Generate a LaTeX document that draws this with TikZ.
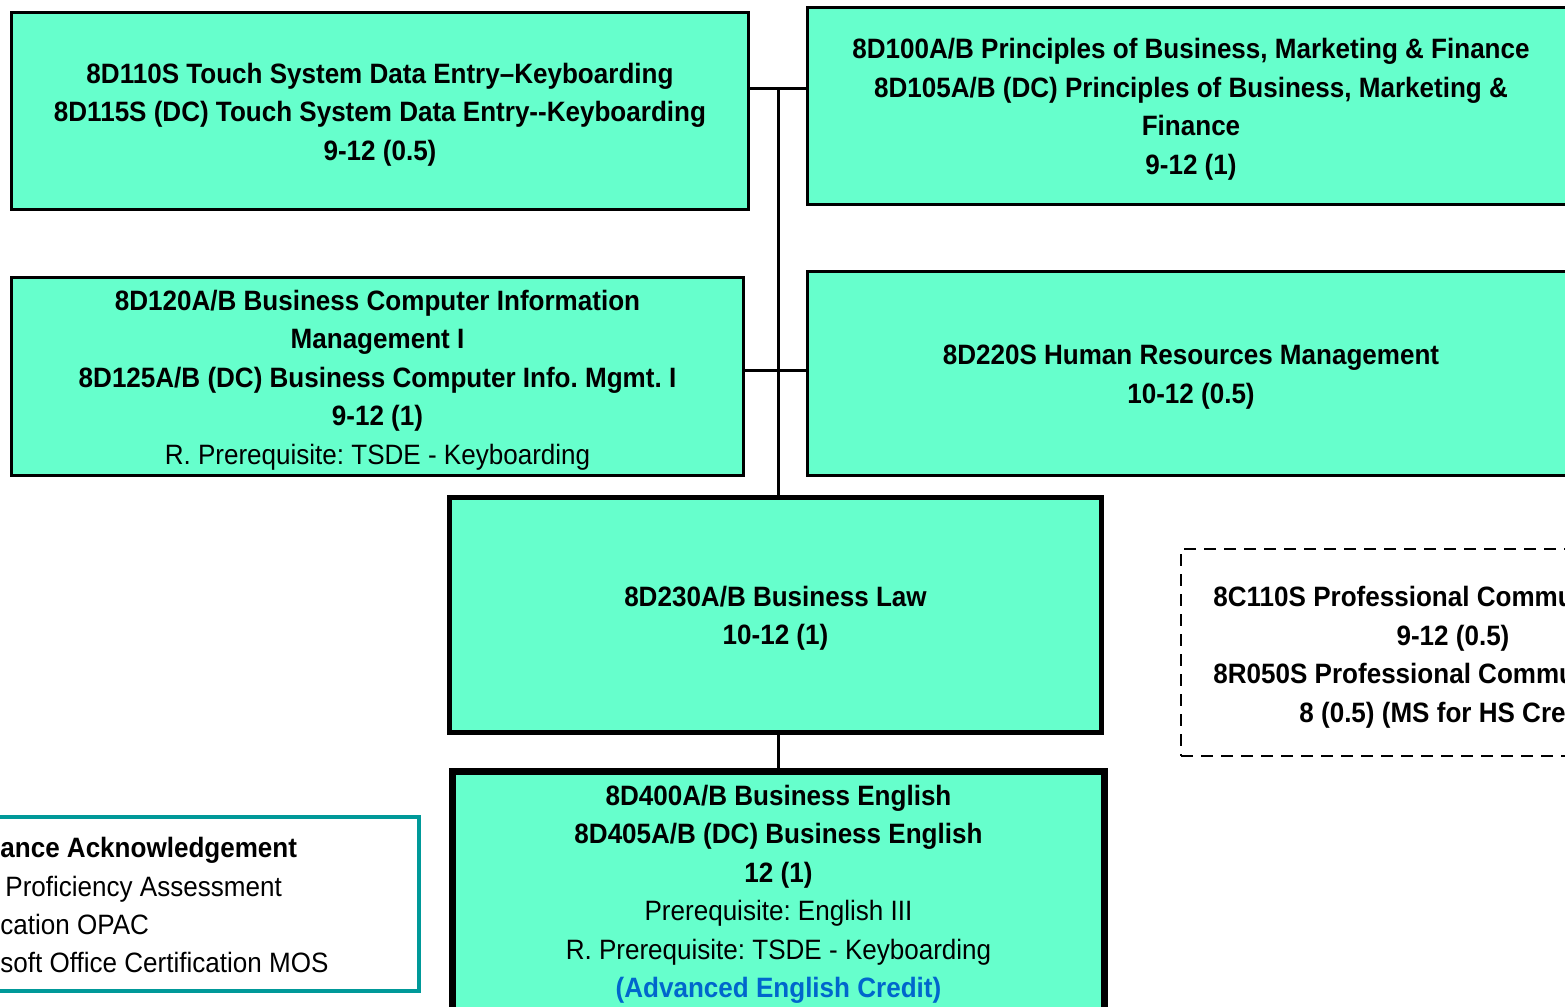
\documentclass[tikz,border=0pt]{standalone}
\usepackage{fontspec}
\setmainfont{Liberation Sans}[FakeStretch=0.93]
\usepackage{tikz}
\frenchspacing

\definecolor{crsfill}{HTML}{66FFCC}
\definecolor{legendteal}{HTML}{009999}
\definecolor{creditblue}{HTML}{0066CC}
\newcommand{\crsfont}{\fontsize{14pt}{19.25pt}\selectfont\bfseries}

\begin{document}
\begin{tikzpicture}[x=0.5pt,y=-0.5pt,
  course/.style={draw=black, line width=1.5pt, fill=crsfill, inner sep=0pt, align=center, font=\crsfont},
  link/.style={draw=black, line width=1.5pt},
  txt/.style={inner sep=0pt, font=\crsfont}]
\useasboundingbox (0,0) rectangle (1565,1007);
\clip (0,0) rectangle (1565,1007);

% course boxes
\node[course, minimum width=368.5pt, minimum height=98.5pt] (tsde) at (380,111)
  {\strut 8D110S Touch System Data Entry--Keyboarding\\8D115S (DC) Touch System Data Entry-{}-Keyboarding\\9-12 (0.5)};
\node[course, minimum width=384pt, minimum height=98.5pt] (pbmf) at (1191,106)
  {\strut 8D100A/B Principles of Business, Marketing \& Finance\\8D105A/B (DC) Principles of Business, Marketing \&\\Finance\\9-12 (1)};
\node[course, minimum width=366pt, minimum height=99pt] (bcim) at (377.5,376.5)
  {\strut 8D120A/B Business Computer Information\\Management I\\8D125A/B (DC) Business Computer Info. Mgmt. I\\9-12 (1)\\{\mdseries R. Prerequisite: TSDE - Keyboarding}};
\node[course, minimum width=384pt, minimum height=102pt] (hrm) at (1191,373.5)
  {\strut 8D220S Human Resources Management\\10-12 (0.5)};
\node[course, line width=2.5pt, minimum width=326pt, minimum height=117.5pt] (law) at (775.5,615)
  {\strut 8D230A/B Business Law\\10-12 (1)};
\node[course, line width=3.5pt, minimum width=326pt, minimum height=119.5pt] (beng) at (778.5,891)
  {\strut 8D400A/B Business English\\8D405A/B (DC) Business English\\12 (1)\\{\mdseries Prerequisite: English III}\\{\mdseries R. Prerequisite: TSDE - Keyboarding}\\\textcolor{creditblue}{(Advanced English Credit)}};

% dashed box
\node[draw=black, line width=1.25pt, dash pattern=on 6pt off 4pt, minimum width=272pt, minimum height=103.5pt, inner sep=0pt] (procom) at (1453,652.5) {};
\node[txt, anchor=base west] (pc1) at (1213,606) {8C110S Professional Commu};
\node[txt, anchor=base] (pc2) at (1453,645) {9-12 (0.5)};
\node[txt, anchor=base west] (pc3) at (1213,683) {8R050S Professional Commu};
\node[txt, anchor=base west] (pc4) at (1299,722) {8 (0.5) (MS for HS Cre};

% legend
\node[draw=legendteal, line width=2pt, fill=white, minimum width=259.5pt, minimum height=87pt, inner sep=0pt] (legend) at (159.5,904) {};
\node[txt, anchor=base west] (lg1) at (0,857) {ance Acknowledgement};
\node[txt, anchor=base west, font=\crsfont\mdseries] (lg2) at (5,896) {Proficiency Assessment};
\node[txt, anchor=base west, font=\crsfont\mdseries] (lg3) at (0,934) {cation OPAC};
\node[txt, anchor=base west, font=\crsfont\mdseries] (lg4) at (0,972) {soft Office Certification MOS};

% connectors
\coordinate (jtop) at (778,88);
\coordinate (jmid) at (778,370);
\draw[link] (tsde.east |- jtop) -- (pbmf.west |- jtop);
\draw[link] (bcim.east |- jmid) -- (hrm.west |- jmid);
\draw[link] (jtop) -- (jtop |- law.north);
\draw[link] (law.south -| jtop) -- (beng.north -| jtop);
\end{tikzpicture}
\end{document}
